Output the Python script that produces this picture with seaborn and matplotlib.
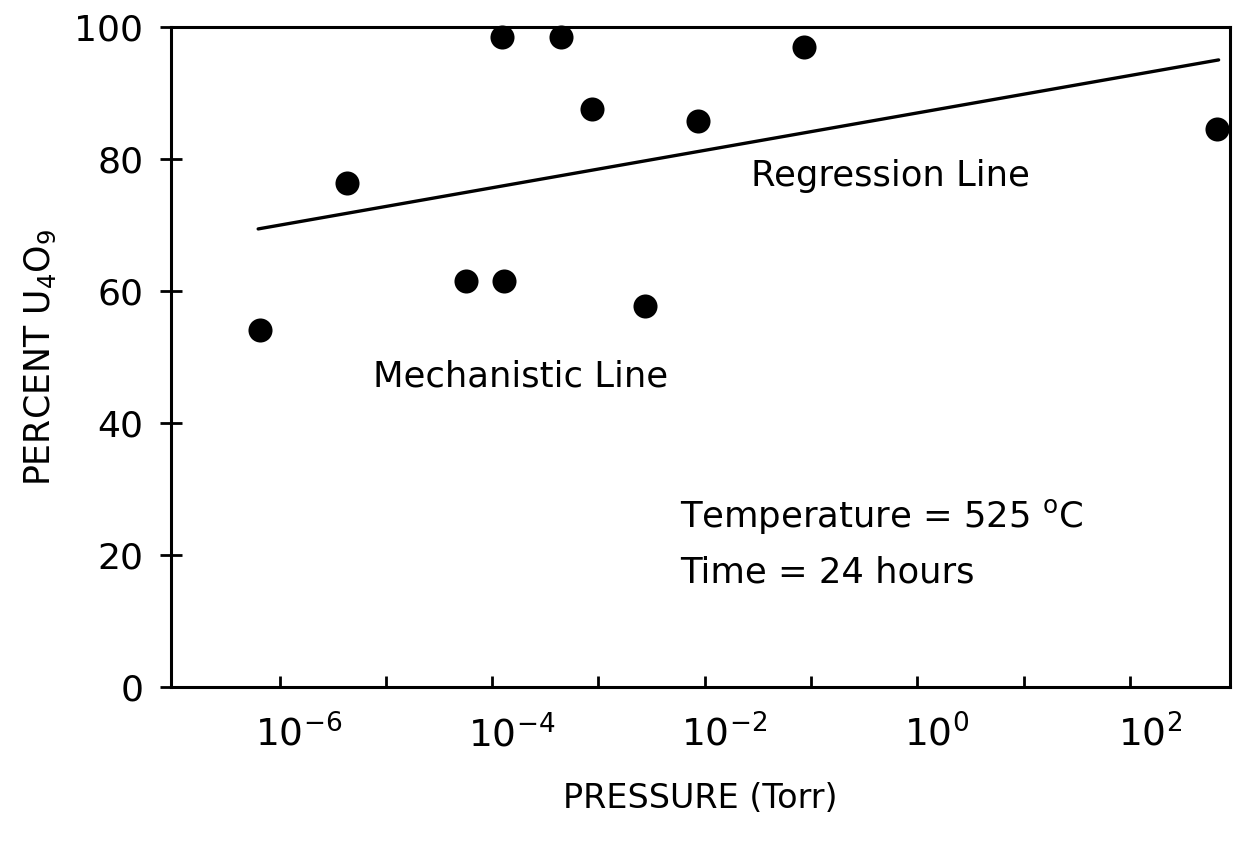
import numpy as np
import pandas as pd
import seaborn as sns
import matplotlib
matplotlib.use("Agg")
import matplotlib.pyplot as plt
from matplotlib.ticker import FixedLocator, LogFormatterSciNotation, NullFormatter
from matplotlib.transforms import ScaledTranslation

# -------- DATA --------
pressure_torr = [6.5e-7, 4.3e-6, 5.7e-5, 1.3e-4, 1.25e-4, 4.4e-4, 8.7e-4,
                 2.75e-3, 8.7e-3, 8.5e-2, 6.6e2]
percent_u4o9 = [54.1, 76.4, 61.5, 61.5, 98.5, 98.5, 87.6, 57.7, 85.8, 97.0, 84.5]

regression_x = [6.3e-7, 6.8e2]
regression_y = [69.4, 95.0]

y_ticks = [0, 20, 40, 60, 80, 100]
x_major = [1e-6, 1e-4, 1e-2, 1e0, 1e2]
x_minor = [1e-5, 1e-3, 1e-1, 1e1]

# -------- STYLE --------
sns.set_style("ticks")
plt.rcParams["font.family"] = ["DejaVu Sans"]
plt.rcParams["mathtext.fontset"] = "custom"
plt.rcParams["mathtext.rm"] = "DejaVu Sans"
plt.rcParams["mathtext.it"] = "DejaVu Sans"
for k in ["text.color", "axes.labelcolor", "xtick.color", "ytick.color"]:
    plt.rcParams[k] = "black"

df = pd.DataFrame({"pressure": pressure_torr, "percent": percent_u4o9})
reg = pd.DataFrame({"pressure": regression_x, "percent": regression_y})

fig = plt.figure(figsize=(12.35, 8.41), dpi=100)
ax = fig.add_axes([0.1385, 0.183, 0.8575, 0.785])

sns.lineplot(data=reg, x="pressure", y="percent", color="black", lw=2.4, ax=ax)
sns.scatterplot(data=df, x="pressure", y="percent", color="black", s=300,
                edgecolor="black", linewidth=0, ax=ax, clip_on=False, zorder=5)

ax.set_xscale("log")
ax.set_xlim(10 ** -7.02, 10 ** 2.94)
ax.set_ylim(0, 100)

ax.xaxis.set_major_locator(FixedLocator(x_major))
ax.xaxis.set_major_formatter(LogFormatterSciNotation())
ax.xaxis.set_minor_locator(FixedLocator(x_minor))
ax.xaxis.set_minor_formatter(NullFormatter())
ax.set_yticks(y_ticks)

for s in ax.spines.values():
    s.set_linewidth(2.2)
    s.set_color("black")

ax.tick_params(axis="x", which="both", direction="in", length=8, width=2,
               labelsize=27, pad=20)
ax.tick_params(axis="y", direction="inout", length=16, width=2,
               labelsize=26, pad=12)

# shift the x tick labels a bit right, like the original
for lab in ax.get_xticklabels():
    lab.set_transform(lab.get_transform() + ScaledTranslation(14 / 72, 0, fig.dpi_scale_trans))

ax.set_xlabel("PRESSURE (Torr)", fontsize=24, labelpad=20)
ax.set_ylabel(r"PERCENT U$_\mathregular{4}$O$_\mathregular{9}$", fontsize=25, labelpad=12)

# -------- ANNOTATIONS --------
ax.text(10 ** -1.57, 77.4, "Regression Line", fontsize=25.5, va="center")
ax.text(10 ** -5.12, 47.1, "Mechanistic Line", fontsize=25.5, va="center")
ax.text(10 ** -2.23, 25.8, r"Temperature = 525 $^\mathregular{o}$C", fontsize=25.5, va="center")
ax.text(10 ** -2.23, 17.4, "Time = 24 hours", fontsize=25.5, va="center")

fig.savefig("out.png", dpi=100)
